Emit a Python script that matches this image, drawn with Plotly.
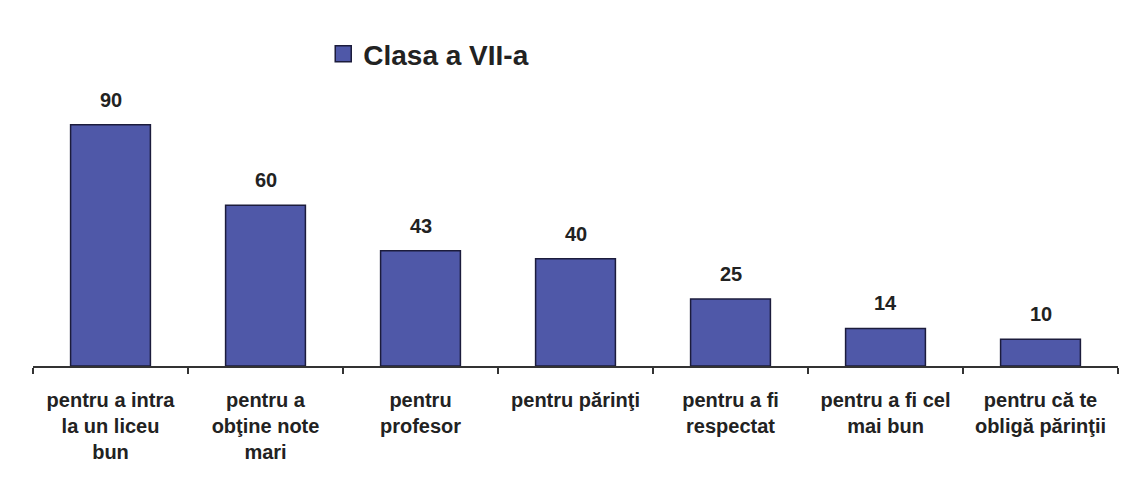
import plotly.graph_objects as go

categories = [
    "pentru a intra<br>la un liceu<br>bun",
    "pentru a<br>obţine note<br>mari",
    "pentru<br>profesor",
    "pentru părinţi",
    "pentru a fi<br>respectat",
    "pentru a fi cel<br>mai bun",
    "pentru că te<br>obligă părinţii",
]
values = [90, 60, 43, 40, 25, 14, 10]
series_name = "Clasa a VII-a"

FONT = "Liberation Sans, Arial"
BAR_COLOR = "#4F58A8"
EDGE = "#1c1c3c"
TXT = "#222222"

fig = go.Figure()
fig.add_trace(go.Bar(
    x=categories, y=values, name=series_name,
    marker=dict(color=BAR_COLOR, line=dict(color=EDGE, width=1.5)),
    cliponaxis=False,
    showlegend=False,
))
# legend entry with a larger square swatch
fig.add_trace(go.Scatter(
    x=[None], y=[None], mode="markers", name=series_name,
    marker=dict(symbol="square", size=21, color=BAR_COLOR, line=dict(color=EDGE, width=1.5)),
    showlegend=True,
))

# value labels above the bars
for c, v in zip(categories, values):
    fig.add_annotation(
        x=c, y=v, xref="x", yref="y", text=str(v), showarrow=False,
        yanchor="bottom", yshift=12,
        font=dict(family=FONT, size=20, color=TXT, weight="bold"),
    )

fig.update_layout(
    width=1131, height=480,
    margin=dict(l=25, r=21, t=90, b=122),
    paper_bgcolor="white", plot_bgcolor="white",
    bargap=0.485,
    font=dict(family=FONT, size=20, color=TXT),
    showlegend=True,
    legend=dict(
        x=0.2675, xanchor="left", y=0.904, yanchor="middle", yref="container",
        font=dict(family=FONT, size=28, color=TXT, weight="bold"),
        itemwidth=30, bgcolor="rgba(0,0,0,0)",
    ),
    xaxis=dict(
        showline=True, linecolor="#333333", linewidth=1.5,
        ticks="outside", tickson="boundaries", ticklen=6, tickcolor="#333333", tickwidth=1.5,
        tickfont=dict(family=FONT, size=20, color=TXT, weight="bold"),
        ticklabelstandoff=15, automargin=False,
    ),
    yaxis=dict(range=[0, 100], visible=False, showgrid=False, zeroline=False, automargin=False),
)

fig.write_html("out.html")
